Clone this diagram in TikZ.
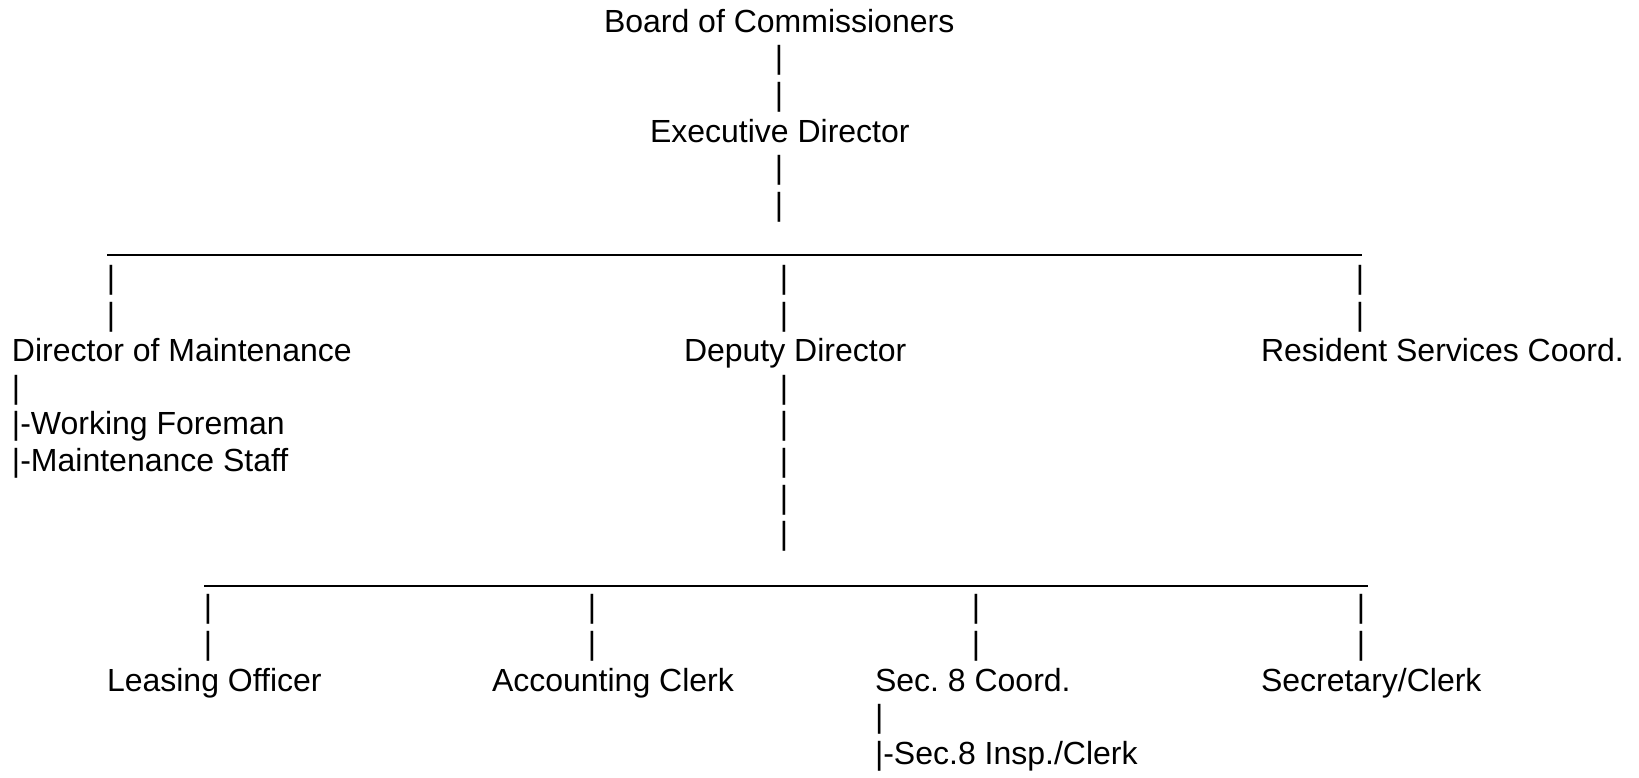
\documentclass[tikz,border=0pt]{standalone}
\usepackage{fontspec}
\setmainfont{Liberation Sans}
\frenchspacing
\begin{document}
\begin{tikzpicture}[x=1pt,y=-1pt,
  lbl/.style={anchor=base west,inner sep=0pt,outer sep=0pt,font=\fontsize{32}{36.6}\selectfont},
  bar/.style={anchor=base,inner sep=0pt,outer sep=0pt,font=\fontsize{32}{36.6}\selectfont},
  rule/.style={line width=2pt}]
\useasboundingbox (0,0) rectangle (1639,778);
\def\ry#1{32.3+36.6*#1}
% main labels
\node[lbl] (board) at (604,{\ry{0}}) {Board of Commissioners};
\node[lbl] (exec) at (650,{\ry{3}}) {Executive Director};
\node[lbl] (maint) at (12,{\ry{9}}) {Director of Maintenance};
\node[lbl] (deputy) at (684,{\ry{9}}) {Deputy Director};
\node[lbl] (resident) at (1261,{\ry{9}}) {Resident Services Coord.};
\node[lbl] (foreman) at (12,{\ry{11}}) {|-Working Foreman};
\node[lbl] (staff) at (12,{\ry{12}}) {|-Maintenance Staff};
\node[lbl] (leasing) at (107,{\ry{18}}) {Leasing Officer};
\node[lbl] (acct) at (492,{\ry{18}}) {Accounting Clerk};
\node[lbl] (sec8) at (875,{\ry{18}}) {Sec. 8 Coord.};
\node[lbl] (secretary) at (1261,{\ry{18}}) {Secretary/Clerk};
\node[lbl] (insp) at (875,{\ry{20}}) {|-Sec.8 Insp./Clerk};
% vertical bars
\foreach \r in {1,2,4,5} \node[bar] (b0-\r) at (779,{\ry{\r}}) {|};
\foreach \x/\n in {111/l,784/m,1360/r}
  \foreach \r in {7,8} \node[bar] (b1\n-\r) at (\x,{\ry{\r}}) {|};
\node[lbl] (bm-10) at (12,{\ry{10}}) {|};
\foreach \r in {10,11,12,13,14} \node[bar] (bd-\r) at (784,{\ry{\r}}) {|};
\foreach \x/\n in {208/a,592/b,976/c,1361/d}
  \foreach \r in {16,17} \node[bar] (b2\n-\r) at (\x,{\ry{\r}}) {|};
\node[lbl] (bs-19) at (875,{\ry{19}}) {|};
% horizontal rules
\coordinate (h1w) at (107,255.5);
\coordinate (h1e) at (1362,255.5);
\coordinate (h2w) at (204,585.5);
\coordinate (h2e) at (1368,585.5);
\draw[rule] (h1w) -- (h1e);
\draw[rule] (h2w) -- (h2e);
\end{tikzpicture}
\end{document}
